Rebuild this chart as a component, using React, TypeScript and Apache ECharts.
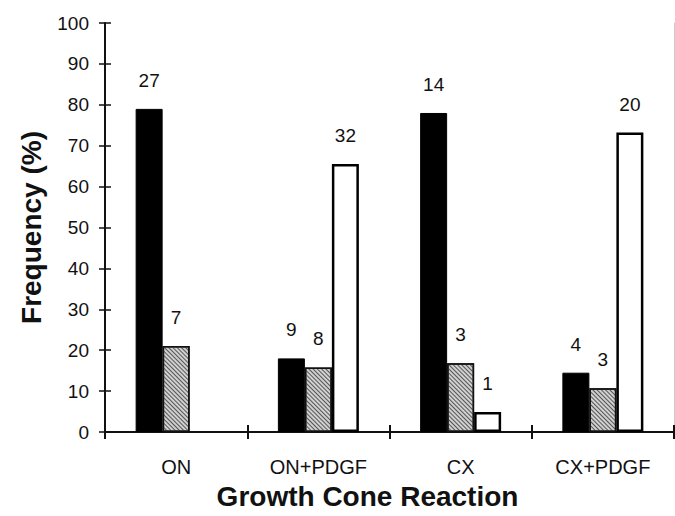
import React, { useEffect, useRef } from "react";
import * as echarts from "echarts";

const categories = ["ON", "ON+PDGF", "CX", "CX+PDGF"];
const blackValues = [79, 18, 78, 14.5];
const hatchedValues = [21, 15.8, 16.8, 10.7];
const whiteValues: (number | null)[] = [null, 65.5, 4.9, 73.2];
const blackCounts = [27, 9, 14, 4];
const hatchedCounts = [7, 8, 3, 3];
const whiteCounts: (number | null)[] = [null, 32, 1, 20];
const yTicks = { min: 0, max: 100, interval: 10 };

const FONT = "'Liberation Sans', Arial, sans-serif";

export default function App() {
  const ref = useRef<HTMLDivElement>(null);
  useEffect(() => {
    if (!ref.current) return;
    const chart = echarts.init(ref.current, null, { renderer: "svg" });
    const label = (counts: (number | null)[]) => ({
      show: true,
      position: "top" as const,
      distance: 19,
      fontFamily: FONT,
      fontSize: 19,
      color: "#111",
      formatter: (p: any) => (counts[p.dataIndex] == null ? "" : String(counts[p.dataIndex])),
    });
    chart.setOption({
      animation: false,
      backgroundColor: "#fff",
      grid: { left: 105, right: 1, top: 23, bottom: 84, containLabel: false },
      xAxis: [
        {
          type: "category",
          data: categories,
          position: "bottom",
          name: "Growth Cone Reaction",
          nameLocation: "middle",
          nameGap: 50,
          nameTextStyle: {
            fontFamily: FONT,
            fontSize: 28,
            fontWeight: "bold",
            color: "#111",
            padding: [0, 44, 0, 0],
          },
          axisLine: { lineStyle: { color: "#111", width: 2 } },
          axisTick: { show: true, length: 7, lineStyle: { color: "#111", width: 2 } },
          axisLabel: { fontFamily: FONT, fontSize: 20, color: "#111", margin: 25 },
          splitLine: { show: false },
        },
        {
          type: "category",
          data: categories,
          position: "bottom",
          axisLine: { show: false },
          axisTick: { show: true, inside: true, length: 7, lineStyle: { color: "#111", width: 2 } },
          axisLabel: { show: false },
          splitLine: { show: false },
        },
        {
          type: "category",
          data: categories,
          position: "top",
          axisLine: { show: true, lineStyle: { color: "#111", width: 2 } },
          axisTick: { show: false },
          axisLabel: { show: false },
          splitLine: { show: false },
        },
      ],
      yAxis: [
        {
          type: "value",
          min: yTicks.min,
          max: yTicks.max,
          interval: yTicks.interval,
          position: "left",
          name: "Frequency (%)",
          nameLocation: "middle",
          nameGap: 60,
          nameRotate: 90,
          nameTextStyle: { fontFamily: FONT, fontSize: 28, fontWeight: "bold", color: "#111" },
          axisLine: { show: true, lineStyle: { color: "#111", width: 2 } },
          axisTick: { show: true, length: 6, lineStyle: { color: "#111", width: 1.5 } },
          axisLabel: { fontFamily: FONT, fontSize: 19, color: "#111", margin: 16 },
          splitLine: { show: false },
        },
        {
          type: "value",
          min: yTicks.min,
          max: yTicks.max,
          interval: yTicks.interval,
          position: "left",
          axisLine: { show: false },
          axisTick: { show: true, inside: true, length: 6, lineStyle: { color: "#111", width: 1.5 } },
          axisLabel: { show: false },
          splitLine: { show: false },
        },
        {
          type: "value",
          min: yTicks.min,
          max: yTicks.max,
          interval: yTicks.interval,
          position: "right",
          axisLine: { show: true, lineStyle: { color: "#ccc", width: 1 } },
          axisTick: { show: false },
          axisLabel: { show: false },
          splitLine: { show: false },
        },
      ],
      series: [
        {
          type: "bar",
          data: blackValues,
          barWidth: 27,
          barGap: "0%",
          itemStyle: { color: "#000", borderColor: "#000", borderWidth: 1 },
          label: label(blackCounts),
        },
        {
          type: "bar",
          data: hatchedValues,
          barWidth: 27,
          barGap: "0%",
          itemStyle: {
            color: "#d0d0d0",
            borderColor: "#111",
            borderWidth: 1.5,
            decal: {
              symbol: "rect",
              symbolSize: 1,
              dashArrayX: [1, 0],
              dashArrayY: [1, 2],
              rotation: Math.PI / 4,
              color: "#555",
            },
          },
          label: label(hatchedCounts),
        },
        {
          type: "bar",
          data: whiteValues,
          barWidth: 27,
          barGap: "0%",
          itemStyle: { color: "#fff", borderColor: "#000", borderWidth: 2.5 },
          label: label(whiteCounts),
        },
      ],
    });
    return () => chart.dispose();
  }, []);
  return <div ref={ref} style={{ position: "fixed", left: 0, top: 0, width: 675, height: 516 }} />;
}
